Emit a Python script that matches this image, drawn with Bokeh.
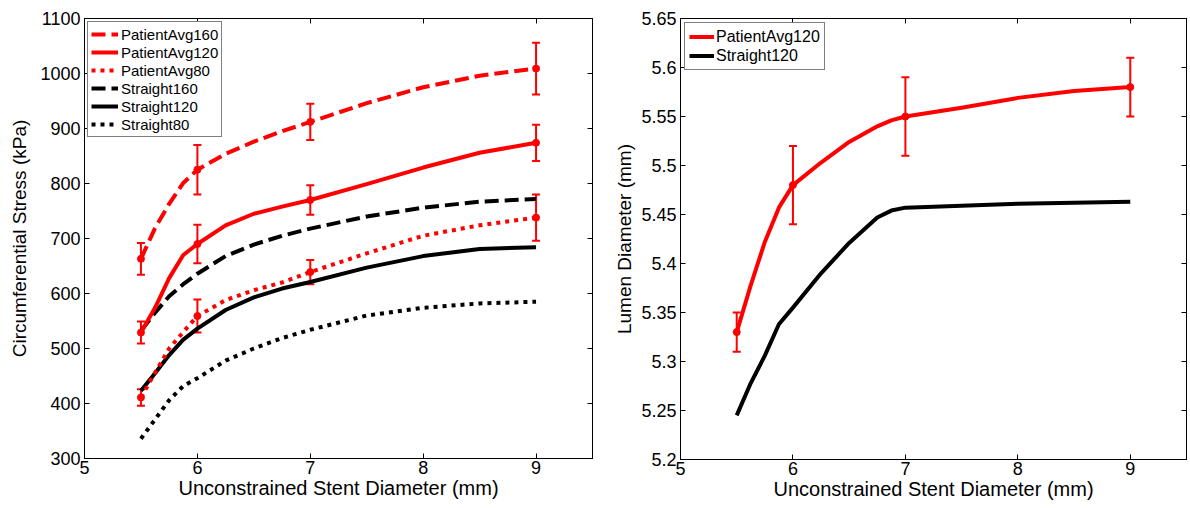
from bokeh.plotting import figure
from bokeh.models import (ColumnDataSource, Whisker, TeeHead, Legend, LegendItem,
                          LinearAxis, FixedTicker, Range1d)
from bokeh.layouts import row
from bokeh.embed import file_html
from bokeh.resources import INLINE

FONT = "Liberation Sans"

# ---------------- data ----------------
X_TICKS = [5, 6, 7, 8, 9]
X_TICK_LABELS = ["5", "6", "7", "8", "9"]
STRESS_TICKS = [300, 400, 500, 600, 700, 800, 900, 1000, 1100]
STRESS_TICK_LABELS = ["300", "400", "500", "600", "700", "800", "900", "1000", "1100"]
LUMEN_TICKS = [5.2, 5.25, 5.3, 5.35, 5.4, 5.45, 5.5, 5.55, 5.6, 5.65]
LUMEN_TICK_LABELS = ["5.2", "5.25", "5.3", "5.35", "5.4", "5.45", "5.5", "5.55", "5.6", "5.65"]

# left panel curves (circumferential stress, kPa)
X_LEFT = [5.5, 5.625, 5.75, 5.875, 6, 6.25, 6.5, 6.75, 7, 7.5, 8, 8.5, 9]
patient_avg160 = [663, 719, 763, 801, 825, 854, 876, 895, 912, 946, 975, 996, 1009]
patient_avg120 = [529, 574, 628, 670, 690, 724, 745, 758, 770, 799, 829, 856, 874]
patient_avg80 = [411, 456, 500, 530, 559, 588, 606, 620, 639, 673, 705, 724, 738]
straight160 = [532, 565, 595, 617, 636, 668, 689, 705, 718, 740, 756, 767, 772]
straight120 = [423, 455, 488, 516, 536, 570, 593, 609, 621, 647, 668, 681, 684]
straight80 = [336, 371, 406, 432, 446, 478, 500, 519, 534, 560, 574, 582, 585]

# left panel measured points with error bars
X_MEAS = [5.5, 6, 7, 9]
pa160_mean = [663, 825, 912, 1009]
pa160_err = [29, 45, 33, 47]
pa120_mean = [529, 690, 770, 874]
pa120_err = [20, 35, 27, 33]
pa80_mean = [411, 559, 639, 738]
pa80_err = [15, 30, 22, 42]

# right panel curves (lumen diameter, mm)
X_RIGHT = [5.5, 5.625, 5.75, 5.875, 6, 6.25, 6.5, 6.75, 6.875, 7, 7.5, 8, 8.5, 9]
lumen_patient120 = [5.330, 5.378, 5.422, 5.457, 5.480, 5.503, 5.524, 5.540, 5.546,
                    5.550, 5.559, 5.569, 5.576, 5.580]
lumen_straight120 = [5.245, 5.278, 5.306, 5.338, 5.355, 5.390, 5.421, 5.447, 5.454,
                     5.457, 5.459, 5.461, 5.462, 5.463]
lumen_mean = [5.33, 5.48, 5.55, 5.58]
lumen_err = [0.02, 0.04, 0.04, 0.03]

X_LABEL = "Unconstrained Stent Diameter (mm)"


def make_fig(width, height, bl, br, bt, bb, yrange, yticks, ylabels, ylabel, ylab_standoff):
    p = figure(width=width, height=height, output_backend="svg", toolbar_location=None,
               x_range=Range1d(5, 9.5), y_range=Range1d(*yrange),
               min_border_left=bl, min_border_right=br, min_border_top=bt,
               min_border_bottom=bb)
    p.grid.visible = False
    p.outline_line_color = "black"
    p.outline_line_width = 1
    p.background_fill_color = "white"
    p.border_fill_color = "white"

    xt = FixedTicker(ticks=X_TICKS)
    yt = FixedTicker(ticks=yticks)
    xa = p.xaxis[0]
    ya = p.yaxis[0]
    xa.ticker = xt
    ya.ticker = yt
    xa.major_label_overrides = {t: l for t, l in zip(X_TICKS, X_TICK_LABELS)}
    ya.major_label_overrides = {t: l for t, l in zip(yticks, ylabels)}
    xa.axis_label = X_LABEL
    ya.axis_label = ylabel
    for ax in (xa, ya):
        ax.axis_line_color = "black"
        ax.major_tick_line_color = "black"
        ax.major_tick_in = 5
        ax.major_tick_out = 0
        ax.minor_tick_line_color = None
        ax.major_label_text_font = FONT
        ax.major_label_text_font_size = "18px"
        ax.major_label_text_color = "black"
        ax.axis_label_text_font = FONT
        ax.axis_label_text_font_style = "normal"
        ax.axis_label_text_color = "black"
    xa.axis_label_text_font_size = "20px"
    ya.axis_label_text_font_size = "19px"
    xa.major_label_standoff = 2
    xa.axis_label_standoff = 0
    ya.major_label_standoff = 4
    ya.axis_label_standoff = ylab_standoff

    # mirrored ticks on top and right (MATLAB box), no labels drawn
    for loc, tk in (("above", xt), ("right", yt)):
        ax = LinearAxis(ticker=tk)
        ax.axis_line_color = "black"
        ax.major_tick_line_color = "black"
        ax.major_tick_in = 5
        ax.major_tick_out = 0
        ax.minor_tick_line_color = None
        ax.major_label_text_font_size = "0px"
        ax.major_label_text_color = None
        ax.major_label_standoff = 0
        ax.axis_label = None
        p.add_layout(ax, loc)
    return p


def style_legend(p, items, font_size, row_h, glyph_w, padding, margin, standoff):
    lg = Legend(items=items, location="top_left")
    lg.label_text_font = FONT
    lg.label_text_font_size = font_size
    lg.label_text_color = "black"
    lg.label_height = row_h
    lg.glyph_height = row_h
    lg.glyph_width = glyph_w
    lg.label_standoff = standoff
    lg.spacing = 0
    lg.padding = padding
    lg.margin = margin
    lg.border_line_color = "black"
    lg.border_line_width = 1
    lg.background_fill_color = "white"
    lg.background_fill_alpha = 1
    p.add_layout(lg)


def add_errorbars(p, xs, means, errs):
    src = ColumnDataSource(dict(x=xs, mean=means,
                                upper=[m + e for m, e in zip(means, errs)],
                                lower=[m - e for m, e in zip(means, errs)]))
    w = Whisker(source=src, base="x", upper="upper", lower="lower",
                line_color="red", line_width=2,
                upper_head=TeeHead(size=8, line_color="red", line_width=2),
                lower_head=TeeHead(size=8, line_color="red", line_width=2))
    p.add_layout(w)
    p.scatter("x", "mean", source=src, size=7, color="red")


DASH = "14 6"
DOT = "4 5"
LW = 4

# ---------------- left panel ----------------
# page has no margin: frame spans x 84..592, y 17..458
left = make_fig(610, 504, 84, 18, 17, 46, (300, 1100), STRESS_TICKS,
                STRESS_TICK_LABELS, "Circumferential Stress (kPa)", 7)

series = [
    ("PatientAvg160", patient_avg160, "red", DASH),
    ("PatientAvg120", patient_avg120, "red", "solid"),
    ("PatientAvg80", patient_avg80, "red", DOT),
    ("Straight160", straight160, "black", DASH),
    ("Straight120", straight120, "black", "solid"),
    ("Straight80", straight80, "black", DOT),
]
renders = {}
for name, ys, col, dash in reversed(series):
    r = left.line(X_LEFT, ys, line_color=col, line_width=LW, line_dash=dash,
                  line_join="round", line_cap="butt")
    renders[name] = r
items = [LegendItem(label=name, renderers=[renders[name]]) for name, _, _, _ in series]

add_errorbars(left, X_MEAS, pa160_mean, pa160_err)
add_errorbars(left, X_MEAS, pa120_mean, pa120_err)
add_errorbars(left, X_MEAS, pa80_mean, pa80_err)

style_legend(left, items, "15px", 18, 27, 3, 3, 3)

# ---------------- right panel ----------------
# frame spans x 680..1186, y 18..459
right = make_fig(579, 505, 70, 3, 18, 46, (5.2, 5.65), LUMEN_TICKS,
                 LUMEN_TICK_LABELS, "Lumen Diameter (mm)", 3)

r_s = right.line(X_RIGHT, lumen_straight120, line_color="black", line_width=LW,
                 line_join="round")
r_p = right.line(X_RIGHT, lumen_patient120, line_color="red", line_width=LW,
                 line_join="round")
add_errorbars(right, X_MEAS, lumen_mean, lumen_err)

style_legend(right, [LegendItem(label="PatientAvg120", renderers=[r_p]),
                     LegendItem(label="Straight120", renderers=[r_s])],
             "16px", 19, 25, 4, 4, 2)

layout = row(left, right)
open("out.html", "w").write(file_html(layout, INLINE))
